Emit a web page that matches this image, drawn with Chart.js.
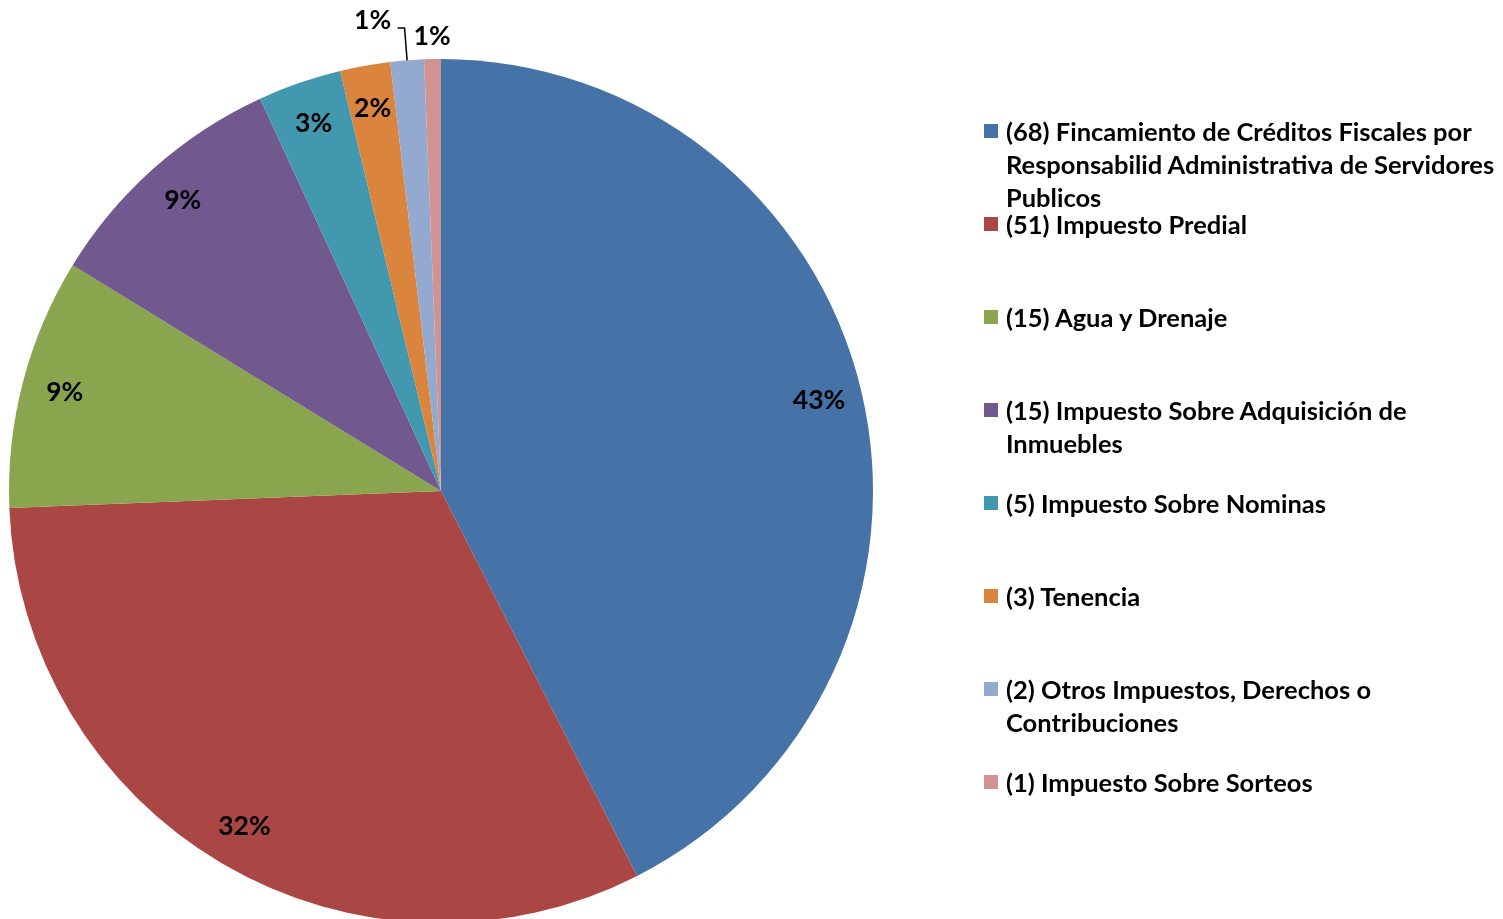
<!DOCTYPE html>
<html>
<head>
<meta charset="utf-8">
<script src="https://cdn.jsdelivr.net/npm/chart.js@4.4.1/dist/chart.umd.min.js"></script>
<style>
  html, body { margin:0; padding:0; width:1503px; height:919px; overflow:hidden; background:#fff; }
  #wrap { position:absolute; left:0; top:0; width:880px; height:930px; }
  #legend { position:absolute; left:0; top:0; width:1503px; height:919px; pointer-events:none;
    font-family: Lato, "Open Sans", sans-serif; font-weight:700; font-size:25.5px; color:#000; }
  .item { position:absolute; left:1006px; white-space:pre; line-height:33px; }
  .sw { position:absolute; left:984px; width:14px; height:14px; }
</style>
</head>
<body>
<div id="wrap"><canvas id="c"></canvas></div>
<div id="legend"></div>
<script>
const categories = [
  "(68) Fincamiento de Créditos Fiscales por\nResponsabilid Administrativa de Servidores\nPublicos",
  "(51) Impuesto Predial",
  "(15) Agua y Drenaje",
  "(15) Impuesto Sobre Adquisición de\nInmuebles",
  "(5) Impuesto Sobre Nominas",
  "(3) Tenencia",
  "(2) Otros Impuestos, Derechos o\nContribuciones",
  "(1) Impuesto Sobre Sorteos"
];
const values = [68, 51, 15, 15, 5, 3, 2, 1];
const colors = ["#4572A7", "#AA4643", "#89A54E", "#71588F", "#4198AF", "#DB843D", "#93A9CF", "#D19392"];

// legend (HTML)
const legend = document.getElementById('legend');
categories.forEach((c, i) => {
  const cy = 131 + 93 * i;
  const sw = document.createElement('div');
  sw.className = 'sw';
  sw.style.top = (cy - 7) + 'px';
  sw.style.background = colors[i];
  legend.appendChild(sw);
  const t = document.createElement('div');
  t.className = 'item';
  t.style.top = (cy - 16.5) + 'px';
  t.textContent = c;
  legend.appendChild(t);
});

const total = values.reduce((a, b) => a + b, 0);

const labelPlugin = {
  id: 'pctLabels',
  afterDatasetsDraw(chart) {
    const ctx = chart.ctx;
    const meta = chart.getDatasetMeta(0);
    ctx.save();
    ctx.font = '700 26.5px Lato, "Open Sans", sans-serif';
    ctx.fillStyle = '#000';
    ctx.textAlign = 'center';
    ctx.textBaseline = 'middle';
    const n = meta.data.length;
    meta.data.forEach((arc, i) => {
      const p = arc.getProps(['x', 'y', 'startAngle', 'endAngle', 'outerRadius'], true);
      const mid = (p.startAngle + p.endAngle) / 2;
      const txt = Math.round(values[i] / total * 100) + '%';
      const R = p.outerRadius;
      if (i === n - 1) {
        const r = R * 1.053;
        ctx.fillText(txt, p.x + Math.cos(mid) * r, p.y + Math.sin(mid) * r);
      } else if (i === n - 2) {
        const ex = p.x + Math.cos(mid) * R, ey = p.y + Math.sin(mid) * R;
        const r2 = R * 1.075;
        const bx = p.x + Math.cos(mid) * r2, by = p.y + Math.sin(mid) * r2;
        ctx.strokeStyle = '#000';
        ctx.lineWidth = 1.5;
        ctx.beginPath();
        ctx.moveTo(ex, ey);
        ctx.lineTo(bx, by);
        ctx.lineTo(bx - 7, by);
        ctx.stroke();
        ctx.fillText(txt, bx - 32, by - 8);
      } else {
        const r = R * 0.9;
        ctx.fillText(txt, p.x + Math.cos(mid) * r, p.y + Math.sin(mid) * r);
      }
    });
    ctx.restore();
  }
};

new Chart(document.getElementById('c'), {
  type: 'pie',
  data: {
    labels: categories,
    datasets: [{ data: values, backgroundColor: colors, borderWidth: 0 }]
  },
  options: {
    responsive: true,
    maintainAspectRatio: false,
    animation: false,
    layout: { padding: { left: 9, top: 59, right: 7, bottom: 7 } },
    plugins: { legend: { display: false }, tooltip: { enabled: false } }
  },
  plugins: [labelPlugin]
});
</script>
</body>
</html>
